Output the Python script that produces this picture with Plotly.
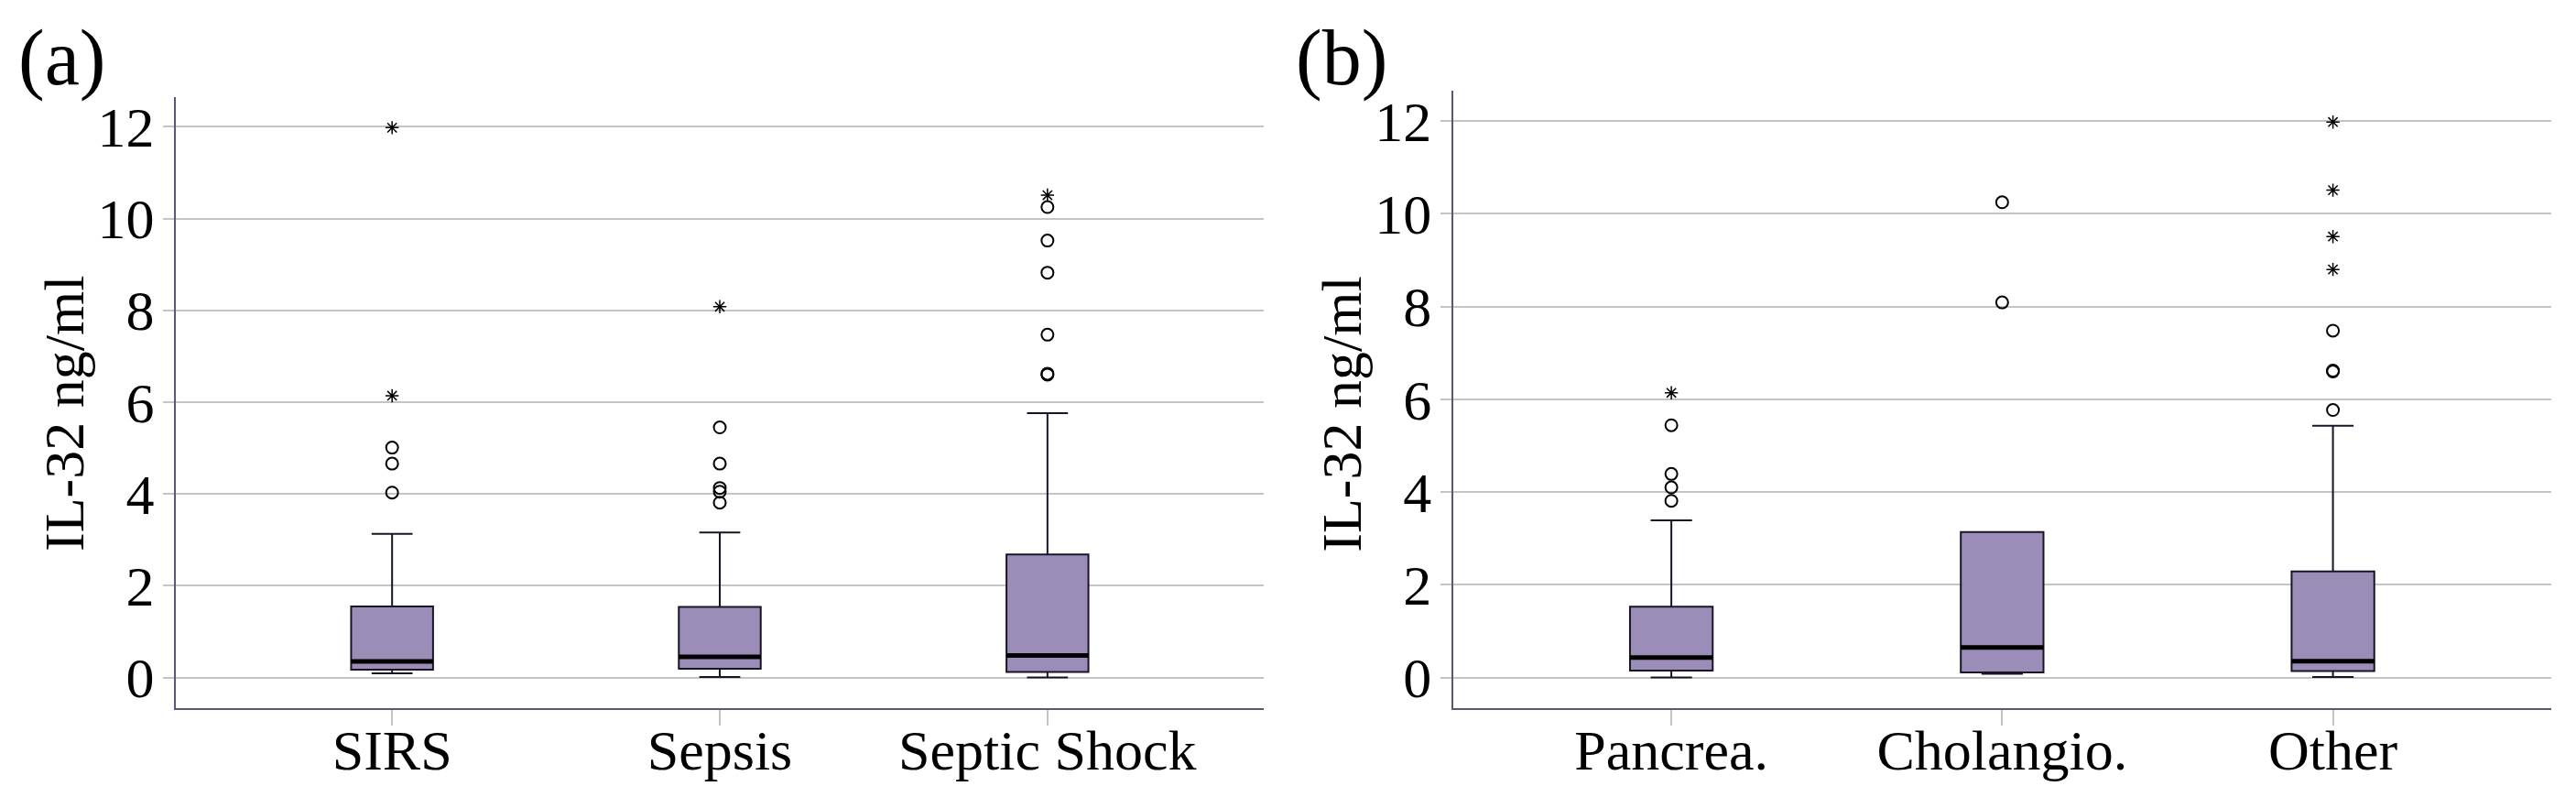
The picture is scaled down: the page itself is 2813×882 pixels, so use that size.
import plotly.graph_objects as go

# ---------------- data ----------------
cats_a = ["SIRS", "Sepsis", "Septic Shock"]
lower_a = [0.09, 0.01, 0.00]
q1_a = [0.17, 0.19, 0.12]
med_a = [0.35, 0.45, 0.48]
q3_a = [1.55, 1.54, 2.68]
upper_a = [3.13, 3.16, 5.76]
circles_a = [[5.01, 4.66, 4.03],
             [5.45, 4.66, 4.13, 4.05, 3.81],
             [10.25, 9.52, 8.82, 7.47, 6.60, 6.62]]
stars_a = [[11.98, 6.14], [8.08], [10.51]]

cats_b = ["Pancrea.", "Cholangio.", "Other"]
lower_b = [0.00, 0.08, 0.01]
q1_b = [0.15, 0.11, 0.14]
med_b = [0.43, 0.65, 0.35]
q3_b = [1.53, 3.14, 2.29]
upper_b = [3.39, 3.14, 5.43]
circles_b = [[5.44, 4.39, 4.10, 3.81],
             [10.25, 8.09],
             [7.48, 6.60, 6.62, 5.77]]
stars_b = [[6.14], [], [11.98, 10.51, 9.51, 8.80]]

yticks = [0, 2, 4, 6, 8, 10, 12]

# ---------------- style ----------------
OFF = 8                      # default page body margin
FW, FH = 2813 - 2 * OFF, 882 - 2 * OFF
FONT = "Liberation Serif"
BOX_FILL = "#9A8DB8"
BOX_LINE = "#1A1426"
AXIS_COLOR = "#5E5672"
GRID_COLOR = "#C4C4C4"
BOX_W = 0.25


def px(x):
    return (x - OFF) / FW


def py(y):
    return (FH - (y - OFF)) / FH


fig = go.Figure()


def add_panel(cats, lo, q1, med, q3, up, circ, star, xa, ya):
    xs = list(range(len(cats)))
    fig.add_trace(go.Box(
        x=xs, q1=q1, median=med, q3=q3, lowerfence=lo, upperfence=up,
        width=BOX_W, whiskerwidth=0.5, boxpoints=False,
        fillcolor=BOX_FILL, line=dict(color=BOX_LINE, width=2),
        xaxis=xa, yaxis=ya, showlegend=False, hoverinfo="skip"))
    mx, my = [], []
    for i, m in enumerate(med):
        mx += [i - BOX_W / 2, i + BOX_W / 2, None]
        my += [m, m, None]
    fig.add_trace(go.Scatter(x=mx, y=my, mode="lines",
                             line=dict(color="black", width=5),
                             xaxis=xa, yaxis=ya, showlegend=False, hoverinfo="skip"))
    cx, cy, sx, sy = [], [], [], []
    for i in xs:
        cx += [i] * len(circ[i]); cy += circ[i]
        sx += [i] * len(star[i]); sy += star[i]
    fig.add_trace(go.Scatter(x=cx, y=cy, mode="markers",
                             marker=dict(symbol="circle-open", size=13,
                                         line=dict(color="black", width=2), color="black"),
                             xaxis=xa, yaxis=ya, showlegend=False, hoverinfo="skip"))
    fig.add_trace(go.Scatter(x=sx, y=sy, mode="markers",
                             marker=dict(symbol="asterisk-open", size=12,
                                         line=dict(color="black", width=1.5), color="black"),
                             xaxis=xa, yaxis=ya, showlegend=False, hoverinfo="skip"))


add_panel(cats_a, lower_a, q1_a, med_a, q3_a, upper_a, circles_a, stars_a, "x", "y")
add_panel(cats_b, lower_b, q1_b, med_b, q3_b, upper_b, circles_b, stars_b, "x2", "y2")

tickfont = dict(family=FONT, size=62, color="black")


def xaxis(domain, cats, anchor):
    return dict(domain=domain, anchor=anchor, range=[-0.66, 2.66],
                tickmode="array", tickvals=list(range(len(cats))), ticktext=cats,
                ticks="outside", ticklen=17, tickwidth=2, tickcolor=GRID_COLOR,
                ticklabelstandoff=-26,
                showline=True, linecolor=AXIS_COLOR, linewidth=2,
                showgrid=False, zeroline=False, tickfont=tickfont)


def yaxis(domain, rng, anchor):
    return dict(domain=domain, anchor=anchor, range=rng,
                tickmode="array", tickvals=yticks,
                ticks="outside", ticklen=12, tickwidth=2, tickcolor=GRID_COLOR,
                ticklabelstandoff=-3,
                showline=True, linecolor=AXIS_COLOR, linewidth=2,
                showgrid=True, gridcolor=GRID_COLOR, gridwidth=2,
                zeroline=False, tickfont=tickfont)


fig.update_layout(
    width=FW, height=FH,
    margin=dict(l=0, r=0, t=0, b=0),
    paper_bgcolor="white", plot_bgcolor="white",
    xaxis=xaxis([px(192), px(1380)], cats_a, "y"),
    yaxis=yaxis([py(773.7), py(105)], [-0.665, 12.65], "x"),
    xaxis2=xaxis([px(1586.7), px(2786)], cats_b, "y2"),
    yaxis2=yaxis([py(773.7), py(98)], [-0.659, 12.66], "x2"),
    font=dict(family=FONT, color="black"),
)

ann_font = dict(family=FONT, size=62, color="black")
for xc in [70, 70 + 1394.7]:
    fig.add_annotation(text="IL-32 ng/ml", textangle=-90, xref="paper", yref="paper",
                       x=px(xc), y=py(452), xanchor="center", yanchor="middle",
                       showarrow=False, font=ann_font)
for lab, xl in [("(a)", 18), ("(b)", 1413)]:
    fig.add_annotation(text=lab, xref="paper", yref="paper",
                       x=px(xl), y=py(62), xanchor="left", yanchor="middle",
                       showarrow=False, font=dict(family=FONT, size=86, color="black"))

fig.write_html("out.html")
